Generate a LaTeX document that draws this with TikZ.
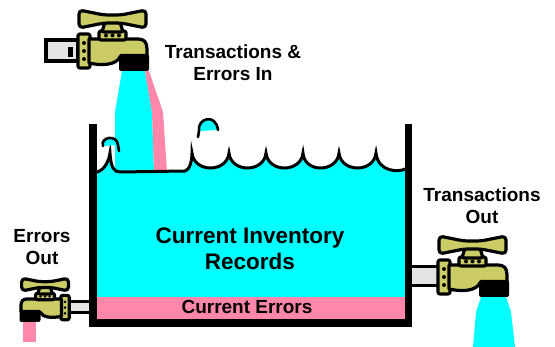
\documentclass[tikz,border=0pt]{standalone}
\usepackage{fontspec}
\setmainfont{Liberation Sans}

\definecolor{brass}{RGB}{204,204,102}
\definecolor{water}{RGB}{0,255,255}
\definecolor{errpink}{RGB}{255,136,170}
\definecolor{pipegray}{RGB}{228,228,228}

\tikzset{
  metal/.style={fill=brass, draw=black, line width=3.2pt, line join=round},
  pipe/.style={fill=pipegray, draw=black, line width=3pt},
  rivet/.style={fill=black},
  label/.style={font=\bfseries\fontsize{19}{22}\selectfont, align=center},
  faucet/.pic={
    % nut, body, bonnet, knob, handle, nozzle
    \draw[metal, rounded corners=2] (-56,-37) rectangle (-44,-3);
    \foreach \y in {-28,-20,-12} \fill[rivet] (-50,\y) circle (2);
    \draw[metal] (-45,-32) -- (4,-32) .. controls (10,-32) and (13,-29) .. (13,-22)
      -- (13,-14) -- (-14,-14) .. controls (-18,-6) and (-32,-5) .. (-45,-8) -- cycle;
    \draw[metal, rounded corners=2] (-35,-40) rectangle (-8,-31);
    \foreach \x in {-28,-21.5,-15} \fill[rivet] (\x,-35.5) circle (2);
    \draw[metal, rounded corners=2] (-29,-49) -- (-14,-49) -- (-11,-39) -- (-32,-39) -- cycle;
    \draw[metal, rounded corners=4] (-55,-61) -- (-30,-56) -- (-13,-56) -- (12,-61)
      -- (12,-43) -- (-13,-48) -- (-30,-48) -- (-55,-43) -- cycle;
    \fill[black, rounded corners=2] (-15,-17) rectangle (15,0);
  }
}

\begin{document}
\begin{tikzpicture}[x=1pt, y=-1pt]
\useasboundingbox (0,0) rectangle (555,347);

% water in the tank
\fill[water] (97,172) .. controls (105,170) and (109,160) .. (110,153)
  .. controls (111,168) and (114,172) .. (120,172) -- (185,171)
  .. controls (190,170) and (192,160) .. (192,153)
  \foreach \x in {192,229,266,302,339} { .. controls (\x+2,173) and (\x+35,173) .. (\x+37,153) }
  .. controls (378,173) and (400,172) .. (405,169) -- (405,297) -- (97,297) -- cycle;
\fill[errpink] (97,297) rectangle (405,320);

% streams
\fill[water] (122,71) -- (145,71) -- (152,112) -- (154,172) -- (115,172) -- (115,112) -- cycle;
\fill[errpink] (145,71) -- (149,71) -- (163,112) -- (167,172) -- (154,172) -- (152,112) -- cycle;
\fill[water] (481,297) -- (476,312) -- (473,347) -- (515,347) -- (511,312) -- (506,297) -- cycle;
\fill[errpink] (23,321) rectangle (36,342);

% surface and drops
\draw[line width=3pt, line cap=round] (97,172) .. controls (105,170) and (109,160) .. (110,153)
  .. controls (111,168) and (114,172) .. (120,172) -- (185,171)
  .. controls (190,170) and (192,160) .. (192,153)
  \foreach \x in {192,229,266,302,339} { .. controls (\x+2,173) and (\x+35,173) .. (\x+37,153) }
  .. controls (378,173) and (400,172) .. (405,169);
\fill[water] (103,146) .. controls (100,137) and (117,134) .. (118,145) -- cycle;
\draw[line width=2.6pt, line cap=round] (103,146) .. controls (100,137) and (117,134) .. (118,145) -- (119,151);
\fill[water] (199,131) .. controls (197,118) and (216,113) .. (218,130) -- cycle;
\draw[line width=2.6pt, line cap=round] (198,137) -- (199,131) .. controls (197,118) and (216,113) .. (218,130);

% pipes
\draw[pipe, line width=3.4pt] (46,40) rectangle (78,61);
\fill[black] (68,47) rectangle (73,57);
\draw[pipe] (66,302) rectangle (92,313);
\draw[pipe] (410,267) rectangle (439,286);

% tank
\draw[line width=7.5pt, line join=miter] (93,124) -- (93,323) -- (408.5,323) -- (408.5,124);

% faucets
\pic at (134,71) {faucet};
\pic at (494,297) {faucet};
\pic[xscale=-0.7, yscale=0.72] at (30,322) {faucet};

% labels
\node[label] (tin) at (233,63) {Transactions \&\\Errors In};
\node[label] (tout) at (482,206) {Transactions\\Out};
\node[label] (eout) at (42,247) {Errors\\Out};
\node[label, font=\bfseries\fontsize{22.5}{26}\selectfont] (inv) at (250,249) {Current Inventory\\Records};
\node[label] (err) at (247,307) {Current Errors};
\end{tikzpicture}
\end{document}
